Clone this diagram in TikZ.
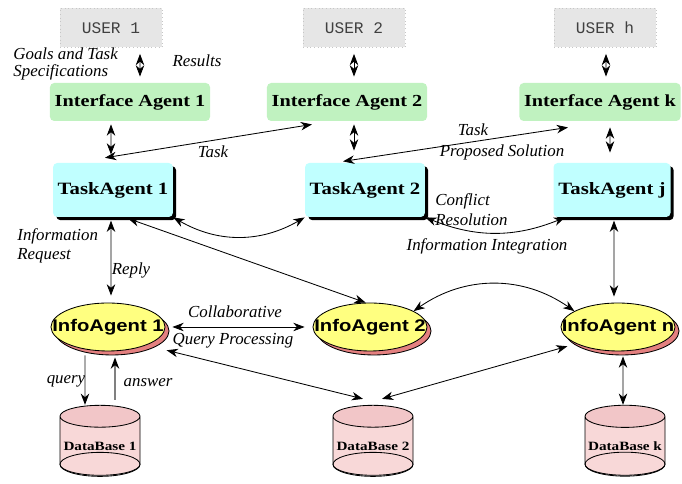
\documentclass[tikz,border=0pt]{standalone}
\usepackage{fontspec}
\usepackage{graphicx}
\setmainfont{Liberation Serif}
\newfontfamily\helv{Liberation Sans}
\newfontfamily\cour{Liberation Mono}
\usetikzlibrary{shapes.geometric,shadows,arrows.meta,calc}

\definecolor{userfill}{HTML}{E6E6E6}
\definecolor{iafill}{HTML}{C0F2C0}
\definecolor{tafill}{HTML}{C0FFFF}
\definecolor{infofill}{HTML}{FFFF80}
\definecolor{infoshadow}{HTML}{E48080}
\definecolor{dbbody}{HTML}{F8D8D8}
\definecolor{dbtop}{HTML}{F2C6C8}

\newcommand{\wide}[1]{\scalebox{1.2}[1]{#1}}

\tikzset{
  userbox/.style={draw=gray!45, dotted, fill=userfill, minimum width=2.55cm,
    minimum height=0.975cm, text=black!75, font=\cour\fontsize{11.5}{12}\selectfont},
  iface/.style={fill=iafill, rounded corners=3pt, minimum width=3.925cm,
    minimum height=0.95cm, font=\bfseries\fontsize{12}{14}\selectfont},
  task/.style={fill=tafill, rounded corners=3pt, minimum width=2.925cm,
    minimum height=1.35cm, font=\bfseries\fontsize{12.3}{14}\selectfont,
    drop shadow={shadow xshift=0.08cm, shadow yshift=-0.08cm, fill=black, opacity=1}},
  info/.style={ellipse, draw, fill=infofill, minimum width=2.85cm, minimum height=1.2cm,
    inner sep=0pt, font=\helv\bfseries\fontsize{12}{14}\selectfont,
    drop shadow={shadow xshift=0.1cm, shadow yshift=-0.1cm, fill=infoshadow, draw=black, opacity=1}},
  db/.style={cylinder, shape border rotate=90, aspect=0.3, draw,
    cylinder uses custom fill, cylinder body fill=dbbody, cylinder end fill=dbtop,
    minimum width=2cm, minimum height=1.75cm, inner sep=0pt,
    font=\bfseries\fontsize{9}{11}\selectfont},
  lab/.style={inner sep=0pt, font=\itshape\fontsize{12}{14}\selectfont},
  link/.style={<->},
  feed/.style={draw=gray, line width=1pt, -{Stealth[length=8pt,width=6pt,inset=2.5pt,color=black]}}
}

\begin{document}
\begin{tikzpicture}[>={Stealth[length=8pt,width=6pt,inset=2.5pt]}, line width=0.6pt]
  \useasboundingbox (0,0) rectangle (17.05,12.1);

  % users
  \node[userbox] (u1) at (2.775,11.4) {USER 1};
  \node[userbox] (u2) at (8.85,11.4) {USER 2};
  \node[userbox] (uh) at (15.125,11.4) {USER h};

  % interface agents
  \node[iface] (ia1) at (3.25,9.55) {\wide{Interface Agent 1}};
  \node[iface] (ia2) at (8.675,9.55) {\wide{Interface Agent 2}};
  \node[iface] (iak) at (15.0,9.55) {\wide{Interface Agent k}};

  % task agents
  \node[task] (ta1) at (2.825,7.35) {\wide{TaskAgent 1}};
  \node[task] (ta2) at (9.125,7.35) {\wide{TaskAgent 2}};
  \node[task] (taj) at (15.3,7.35) {\wide{TaskAgent j}};

  % info agents
  \node[info] (inf1) at (2.7,3.925) {\makebox[0pt]{\wide{InfoAgent 1}}};
  \node[info] (inf2) at (9.25,3.925) {\makebox[0pt]{\wide{InfoAgent 2}}};
  \node[info] (infn) at (15.45,3.925) {\makebox[0pt]{\wide{InfoAgent n}}};

  % databases
  \node[db] (db1) at (2.5,0.95) {\wide{DataBase 1}};
  \node[db] (db2) at (9.325,0.95) {\wide{DataBase 2}};
  \node[db] (dbk) at (15.625,0.95) {\wide{DataBase k}};
  \draw ($(db1.before bottom)!0.5!(db1.after bottom)$) ellipse [x radius=1cm, y radius=0.3cm];
  \draw ($(db2.before bottom)!0.5!(db2.after bottom)$) ellipse [x radius=1cm, y radius=0.3cm];
  \draw ($(dbk.before bottom)!0.5!(dbk.after bottom)$) ellipse [x radius=1cm, y radius=0.3cm];

  % user <-> interface
  \draw[link, shorten <=0.15cm, shorten >=0.15cm] ([xshift=0.725cm]u1.south) -- ([xshift=0.25cm]ia1.north);
  \draw[link, shorten <=0.15cm, shorten >=0.15cm] (u2.south) -- ([xshift=0.175cm]ia2.north);
  \draw[link, shorten <=0.15cm, shorten >=0.15cm] ([xshift=0.025cm]uh.south) -- ([xshift=0.15cm]iak.north);
  \node[lab, align=left, anchor=west, font=\itshape\fontsize{12}{12}\selectfont] (lgoals) at (0.325,10.5) {Goals and Task\\Specifications};
  \node[lab] (lres) at (4.925,10.575) {Results};

  % interface <-> task
  \draw[link, shorten <=0.075cm, shorten >=0.2cm] ([xshift=-0.475cm]ia1.south) -- ([xshift=-0.05cm]ta1.north);
  \draw[link, shorten <=0.075cm, shorten >=0.3cm] ([xshift=0.175cm]ia2.south) -- ([xshift=-0.275cm]ta2.north);
  \draw[link, shorten <=0.15cm, shorten >=0.25cm] ([xshift=0.25cm]iak.south) -- ([xshift=-0.05cm]taj.north);
  \draw[link] ([xshift=-0.2cm,yshift=0.12cm]ta1.north) -- ([xshift=-0.875cm,yshift=-0.075cm]ia2.south);
  \draw[link] ([xshift=-0.55cm,yshift=0.03cm]ta2.north) -- ([xshift=-0.8cm,yshift=-0.15cm]iak.south);
  \node[lab] (ltask1) at (5.325,8.3) {Task};
  \node[lab] (ltask2) at (11.825,8.85) {Task};
  \node[lab] (lprop) at (12.55,8.3) {Proposed Solution};

  % task <-> task
  \draw[link] (ta1.south east) to[bend right=30] (ta2.south west);
  \draw[link] (ta2.south east) to[bend right=22] ([xshift=0.3cm]taj.south west);
  \node[lab, align=left, anchor=west] (lconf) at (10.875,6.85) {Conflict\\Resolution};
  \node[lab] (linteg) at (12.175,5.95) {Information Integration};

  % task <-> info
  \draw[link, shorten <=0.08cm, shorten >=0.175cm] ([xshift=-0.05cm]ta1.south) -- ([xshift=0.075cm]inf1.north);
  \draw[link, shorten <=0.08cm] ([xshift=0.3cm]ta1.south) -- (inf2.100);
  \draw[link, shorten <=0.08cm, shorten >=0.15cm] ([xshift=0.05cm]taj.south) -- ([xshift=-0.1cm]infn.north);
  \node[lab, align=left, anchor=west] (lreq) at (0.425,5.95) {Information\\Request};
  \node[lab] (lreply) at (3.275,5.35) {Reply};

  % info <-> info
  \draw[link, shorten <=0.175cm, shorten >=0.2cm] (inf1.east) -- (inf2.west);
  \draw[link] (inf2.20) to[bend left=35] (infn.160);
  \node[lab] (lcollab) at (5.875,4.3) {Collaborative};
  \node[lab] (lqp) at (5.825,3.575) {Query Processing};

  % info <-> databases
  \draw[feed] ([xshift=-0.575cm,yshift=-0.1cm]inf1.south) -- ([xshift=-0.375cm]db1.top);
  \draw[feed] ([xshift=0.375cm,yshift=0.125cm]db1.top) -- ([xshift=0.175cm,yshift=-0.15cm]inf1.south);
  \node[lab] (lquery) at (1.65,2.575) {query};
  \node[lab] (lans) at (3.7,2.525) {answer};
  \draw[link] ([shift={(0.45cm,-0.15cm)}]inf1.south east) -- ([shift={(-0.25cm,0.15cm)}]db2.top);
  \draw[link] ([shift={(-0.25cm,-0.05cm)}]infn.south west) -- ([shift={(0.225cm,0.15cm)}]db2.top);
  \draw[link, shorten <=0.125cm] ([xshift=0.125cm]infn.south) -- ([xshift=-0.05cm]dbk.top);
\end{tikzpicture}
\end{document}
